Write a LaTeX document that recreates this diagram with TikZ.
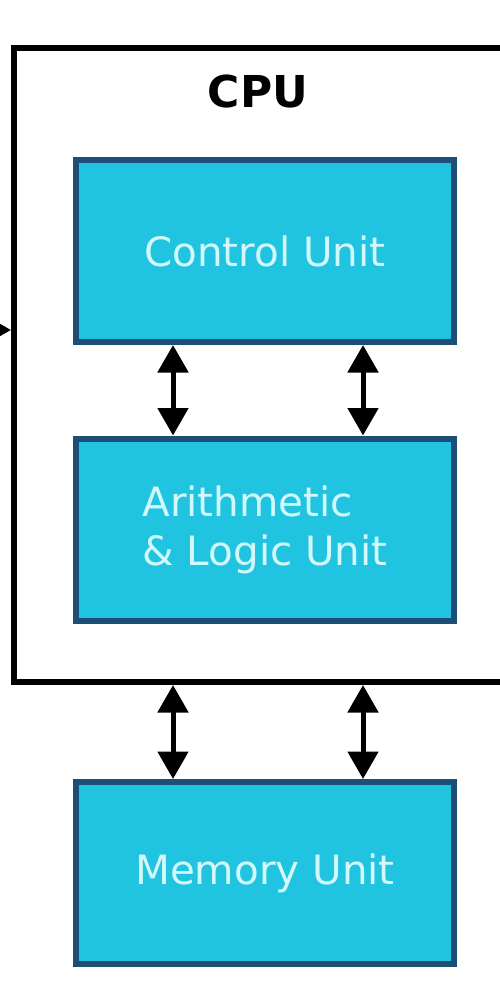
\documentclass[tikz,border=0pt]{standalone}
\usepackage{fontspec}
\setmainfont{DejaVu Sans}
\usepackage{xcolor}
\definecolor{unitcyan}{RGB}{32,196,224}
\definecolor{unitedge}{RGB}{28,78,118}
\definecolor{unittext}{RGB}{210,248,252}
\usetikzlibrary{arrows.meta,positioning}

\begin{document}
\begin{tikzpicture}[
    unit/.style={draw=unitedge, line width=0.12cm, fill=unitcyan,
                 minimum width=7.56cm, minimum height=3.64cm,
                 text=unittext, font=\fontsize{23}{28}\selectfont, align=left},
    box/.style={draw, line width=0.12cm, minimum width=10.12cm, minimum height=12.68cm},
    arr/.style={{Triangle[width=0.6cm,length=0.55cm]}-{Triangle[width=0.6cm,length=0.55cm]}, line width=0.1cm},
    inarr/.style={-{Triangle[width=0.6cm,length=0.55cm]}, line width=0.1cm}
  ]
    \useasboundingbox (0,0) rectangle (10,-20);

    % CPU frame
    \node[box] (cpu) at (5.34,-7.3) {};
    \node[font=\fontsize{25}{30}\selectfont\bfseries] (cpulabel) at (5.16,-1.84) {CPU};

    % Units
    \node[unit] (cu) at (5.3,-5.02) {Control Unit};
    \node[unit] (alu) at (5.3,-10.59) {Arithmetic\\ \& Logic Unit};
    \node[unit] (mem) at (5.3,-17.46) {Memory Unit};

    % Arrow columns
    \coordinate (xl) at (3.46,0);
    \coordinate (xr) at (7.26,0);

    % Control <-> ALU
    \draw[arr] (cu.south -| xl) -- (alu.north -| xl);
    \draw[arr] (cu.south -| xr) -- (alu.north -| xr);

    % CPU <-> Memory
    \draw[arr] (cpu.south -| xl) -- (mem.north -| xl);
    \draw[arr] (cpu.south -| xr) -- (mem.north -| xr);

    % Input from the left
    \coordinate (in) at (-0.8,-6.6);
    \draw[inarr] (in) -- (in -| cpu.west);
  \end{tikzpicture}
\end{document}
